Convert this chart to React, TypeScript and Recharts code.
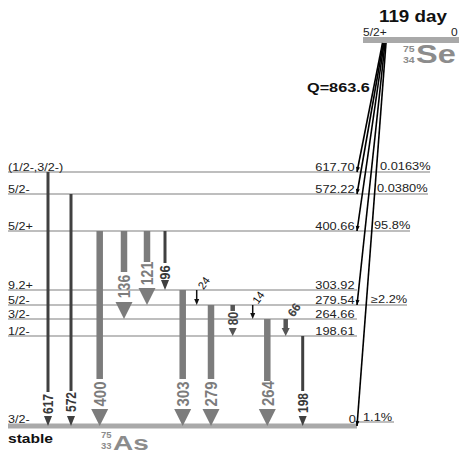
import React from 'react';
import { ComposedChart, XAxis, YAxis, Scatter, ReferenceLine } from 'recharts';

// ---------------- data ----------------
const levelEnergies = [0, 198.61, 264.66, 279.54, 303.92, 400.66, 572.22, 617.7];
const levelEnergyLabels = ['0', '198.61', '264.66', '279.54', '303.92', '400.66', '572.22', '617.70'];
const levelSpins = ['3/2-', '1/2-', '3/2-', '5/2-', '9.2+', '5/2+', '5/2-', '(1/2-,3/2-)'];
const betaFeeding = ['1.1%', '', '', '\u22652.2%', '', '95.8%', '0.0380%', '0.0163%'];

const parentSpin = '5/2+';
const parentEnergyLabel = '0';
const halfLife = '119 day';
const qValue = 'Q=863.6';
const parentMass = '75';
const parentZ = '34';
const parentSymbol = 'Se';
const daughterMass = '75';
const daughterZ = '33';
const daughterSymbol = 'As';
const groundNote = 'stable';

const gammaLabels = ['617', '572', '400', '136', '121', '96', '303', '24', '279', '80', '14', '264', '66', '198'];
const gammaFrom = [617.7, 572.22, 400.66, 400.66, 400.66, 400.66, 303.92, 303.92, 279.54, 279.54, 279.54, 264.66, 264.66, 198.61];
const gammaTo = [0, 0, 0, 264.66, 279.54, 303.92, 0, 279.54, 0, 198.61, 264.66, 0, 198.61, 0];
const gammaStrength = ['weak', 'weak', 'strong', 'strong', 'strong', 'weak', 'strong', 'tiny', 'strong', 'medium', 'tiny', 'strong', 'medium', 'weak'];

// ---------------- layout (schematic diagram units) ----------------
const W = 459;
const H = 454;
const levelRow = [0, 90, 107, 121, 136, 195, 232, 254];
const parentRow = 386;
const levelLineEnd = [357, 357, 357, 407, 357, 410, 428, 430];
const betaLabelX = [363, 0, 0, 371, 0, 374, 377, 380];
const gammaColumn = [48, 71, 99.7, 124, 147, 165, 182.7, 196.7, 211, 232.7, 252.7, 267.3, 285.7, 302.7];
// gap from arrow tip up to shaft end / label centre
const gammaShaftGap = [34, 35, 47, 47, 43, 27, 47, 0, 47, 25, 0, 45, 8, 35];
const gammaLabelGap = [22, 24, 32, 32.5, 31.5, 17.5, 32, 0, 32, 17.5, 0, 32.5, 0, 23];
const gammaLabelSize = [12, 12, 15, 14, 14, 13, 15, 11, 15, 12, 11, 15, 12, 12];
// angled labels (offset from the upper end of the arrow)
const angledLabel: Record<number, { dx: number; dv: number }> = {
  7: { dx: 7, dv: 7 },
  10: { dx: 5.5, dv: 7.5 },
  12: { dx: 8.5, dv: 9 },
};
const betaStartX: Record<number, number> = { 7: 382.5, 6: 383.3, 5: 384.1, 3: 385, 0: 386 };

const gammaStyle: Record<string, { w: number; color: string; headW: number; headH: number; text: string; weight: string }> = {
  strong: { w: 6.5, color: '#7c7c7c', headW: 17, headH: 17, text: '#7c7c7c', weight: 'bold' },
  weak: { w: 3, color: '#404040', headW: 8, headH: 10, text: '#383838', weight: 'bold' },
  medium: { w: 4.5, color: '#555555', headW: 8, headH: 8, text: '#444444', weight: 'bold' },
  tiny: { w: 1.5, color: '#111111', headW: 5, headH: 6, text: '#111111', weight: 'normal' },
};

const FONT = "'Liberation Sans', Arial, Helvetica, sans-serif";
const LEVEL_GREY = '#a9a9a9';

const row = (e: number) => levelRow[levelEnergies.indexOf(e)];

type TextItem = {
  x: number; y: number; text: string; size: number; weight?: string; fill?: string;
  anchor?: string; sx?: number; rotate?: number; baseline?: string;
};

// ---------------- derived marks ----------------
const texts: TextItem[] = [];
levelEnergies.forEach((e, i) => {
  const lift = i === 0 ? 3 : 1.5;
  texts.push({ x: 8, y: levelRow[i] + lift, text: levelSpins[i], size: 10.5, sx: 1.2, fill: '#222' });
  texts.push({ x: i === 0 ? 356 : 354.5, y: levelRow[i] + lift, text: levelEnergyLabels[i], size: 10.5, sx: 1.22, fill: '#222', anchor: 'end' });
  if (betaFeeding[i]) {
    texts.push({ x: betaLabelX[i], y: levelRow[i] + (i === 0 ? 5.5 : 2), text: betaFeeding[i], size: 10.5, sx: 1.22, fill: '#222' });
  }
});
texts.push({ x: 363, y: parentRow + 4, text: parentSpin, size: 10, sx: 1.2, fill: '#222' });
texts.push({ x: 451, y: parentRow + 4, text: parentEnergyLabel, size: 10, sx: 1.2, fill: '#222' });
texts.push({ x: 379, y: 404, text: halfLife, size: 16, weight: 'bold', sx: 1.175, fill: '#111' });
texts.push({ x: 307, y: 334, text: qValue, size: 13, weight: 'bold', sx: 1.25, fill: '#111' });
texts.push({ x: 403, y: 374.5, text: parentMass, size: 9.5, weight: 'bold', sx: 1.1, fill: '#8c8c8c' });
texts.push({ x: 403, y: 363.5, text: parentZ, size: 9.5, weight: 'bold', sx: 1.1, fill: '#8c8c8c' });
texts.push({ x: 416, y: 363, text: parentSymbol, size: 25, weight: 'bold', sx: 1.3, fill: '#8c8c8c' });
texts.push({ x: 8, y: -17, text: groundNote, size: 13, weight: 'bold', sx: 1.2, fill: '#111' });
texts.push({ x: 101, y: -11.5, text: daughterMass, size: 9, weight: 'bold', sx: 1.05, fill: '#8c8c8c' });
texts.push({ x: 101, y: -22.5, text: daughterZ, size: 9, weight: 'bold', sx: 1.05, fill: '#8c8c8c' });
texts.push({ x: 113, y: -24, text: daughterSymbol, size: 20, weight: 'bold', sx: 1.4, fill: '#8c8c8c' });

gammaLabels.forEach((lab, i) => {
  const st = gammaStyle[gammaStrength[i]];
  const ang = angledLabel[i];
  if (ang) {
    texts.push({
      x: gammaColumn[i] + ang.dx, y: row(gammaFrom[i]) + ang.dv, text: lab, size: gammaLabelSize[i],
      weight: st.weight, fill: st.text, anchor: 'middle', baseline: 'central', rotate: -55, sx: 1,
    });
  } else {
    texts.push({
      x: gammaColumn[i], y: row(gammaTo[i]) + gammaLabelGap[i], text: lab, size: gammaLabelSize[i],
      weight: st.weight, fill: st.text, anchor: 'middle', baseline: 'central', rotate: -90, sx: 1.15,
    });
  }
});

const gammaHeads = gammaLabels.map((_, i) => {
  const st = gammaStyle[gammaStrength[i]];
  return { x: gammaColumn[i], y: row(gammaTo[i]), w: st.headW, h: st.headH, fill: st.color, rot: 0 };
});

const betaLevels = levelEnergies.map((_, i) => i).filter((i) => betaFeeding[i]);
const BETA_END_X = 357;
const BETA_TOP = parentRow - 3;
const betaHeads = betaLevels.map((i) => {
  const dx = BETA_END_X - betaStartX[i];
  const dy = BETA_TOP - levelRow[i];
  return { x: BETA_END_X, y: levelRow[i], w: 4, h: 5, fill: '#000', rot: (Math.atan2(-dx, dy) * 180) / Math.PI };
});

// ---------------- shapes ----------------
const TextShape = (p: any) => {
  const d: TextItem = p.payload;
  if (p.cx == null || p.cy == null) return null;
  const rot = d.rotate ? ` rotate(${d.rotate})` : '';
  return (
    <text
      transform={`translate(${p.cx},${p.cy}) scale(${d.sx ?? 1},1)${rot}`}
      textAnchor={d.anchor || 'start'}
      dominantBaseline={d.baseline || 'alphabetic'}
      fontSize={d.size}
      fontWeight={d.weight || 'normal'}
      fill={d.fill || '#222'}
      fontFamily={FONT}
    >
      {d.text}
    </text>
  );
};

const HeadShape = (p: any) => {
  const d = p.payload;
  if (p.cx == null || p.cy == null) return null;
  const { cx, cy } = p;
  return (
    <polygon
      points={`${cx - d.w / 2},${cy - d.h} ${cx + d.w / 2},${cy - d.h} ${cx},${cy}`}
      fill={d.fill}
      transform={d.rot ? `rotate(${d.rot},${cx},${cy})` : undefined}
    />
  );
};

export default function App() {
  return (
    <div style={{ position: 'absolute', left: 0, top: 0, width: W, height: H, background: '#fff' }}>
      <ComposedChart width={W} height={H} margin={{ top: 0, right: 0, bottom: 0, left: 0 }}>
        <XAxis type="number" dataKey="x" domain={[0, W]} hide allowDataOverflow />
        <YAxis type="number" dataKey="y" domain={[-28, 426]} hide allowDataOverflow />

        {/* level lines */}
        {levelEnergies.map((e, i) =>
          i === 0 ? null : (
            <ReferenceLine
              key={`lv${i}`}
              segment={[{ x: 8, y: levelRow[i] }, { x: levelLineEnd[i], y: levelRow[i] }]}
              stroke={LEVEL_GREY}
              strokeWidth={1.5}
              ifOverflow="visible"
            />
          )
        )}
        <ReferenceLine segment={[{ x: 8, y: 0 }, { x: 357, y: 0 }]} stroke={LEVEL_GREY} strokeWidth={5} ifOverflow="visible" />
        <ReferenceLine segment={[{ x: 357, y: 4 }, { x: 394, y: 4 }]} stroke={LEVEL_GREY} strokeWidth={1.3} ifOverflow="visible" />
        <ReferenceLine segment={[{ x: 363, y: parentRow }, { x: W, y: parentRow }]} stroke={LEVEL_GREY} strokeWidth={6} ifOverflow="visible" />

        {/* gamma shafts */}
        {gammaLabels.map((_, i) => {
          const st = gammaStyle[gammaStrength[i]];
          const gap = gammaShaftGap[i] || st.headH;
          return (
            <ReferenceLine
              key={`g${i}`}
              segment={[{ x: gammaColumn[i], y: row(gammaFrom[i]) }, { x: gammaColumn[i], y: row(gammaTo[i]) + gap }]}
              stroke={st.color}
              strokeWidth={st.w}
              ifOverflow="visible"
            />
          );
        })}

        {/* beta feeding lines */}
        {betaLevels.map((i) => (
          <ReferenceLine
            key={`b${i}`}
            segment={[{ x: betaStartX[i], y: BETA_TOP }, { x: BETA_END_X, y: levelRow[i] }]}
            stroke="#000"
            strokeWidth={1.6}
            ifOverflow="visible"
          />
        ))}

        <Scatter data={gammaHeads} shape={HeadShape} isAnimationActive={false} />
        <Scatter data={betaHeads} shape={HeadShape} isAnimationActive={false} />
        <Scatter data={texts} shape={TextShape} isAnimationActive={false} />
      </ComposedChart>
    </div>
  );
}
